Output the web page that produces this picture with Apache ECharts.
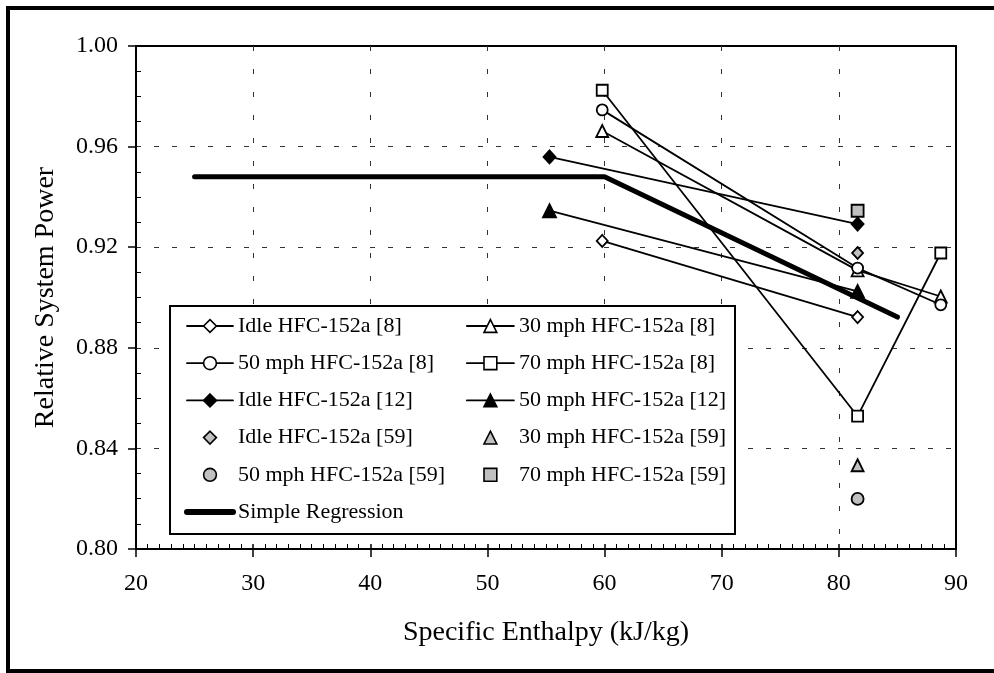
<!DOCTYPE html>
<html>
<head>
<meta charset="utf-8">
<script src="https://cdn.jsdelivr.net/npm/echarts@6/dist/echarts.min.js"></script>
<style>
html,body{margin:0;padding:0;background:#fff;}
#chart{width:994px;height:673px;}
</style>
</head>
<body>
<div id="chart"></div>
<script>
// ---- data ----
const xTicks = [20, 30, 40, 50, 60, 70, 80, 90];
const yTicks = [0.80, 0.84, 0.88, 0.92, 0.96, 1.00];

const idle8    = [[59.8, 0.9225], [81.6, 0.8922]];
const mph30_8  = [[59.8, 0.9662], [81.6, 0.9108], [88.7, 0.9004]];
const mph50_8  = [[59.8, 0.9746], [81.6, 0.9117], [88.7, 0.8971]];
const mph70_8  = [[59.8, 0.9824], [81.6, 0.8528], [88.7, 0.9177]];
const idle12   = [[55.3, 0.9559], [81.6, 0.9292]];
const mph50_12 = [[55.3, 0.9345], [81.6, 0.9024]];
const idle59   = [[81.6, 0.9177]];
const mph30_59 = [[81.6, 0.8333]];
const mph50_59 = [[81.6, 0.8199]];
const mph70_59 = [[81.6, 0.9345]];
const regression = [[25, 0.948], [60, 0.948], [85, 0.8922]];

const names = {
  idle8: 'Idle HFC-152a [8]', mph30_8: '30 mph HFC-152a [8]',
  mph50_8: '50 mph HFC-152a [8]', mph70_8: '70 mph HFC-152a [8]',
  idle12: 'Idle HFC-152a [12]', mph50_12: '50 mph HFC-152a [12]',
  idle59: 'Idle HFC-152a [59]', mph30_59: '30 mph HFC-152a [59]',
  mph50_59: '50 mph HFC-152a [59]', mph70_59: '70 mph HFC-152a [59]',
  reg: 'Simple Regression'
};

// ---- styling ----
const FONT = "'Liberation Serif','Times New Roman',serif";
const GREY = '#c0c0c0';
const LW = 1.8;

function mk(name, data, symbol, size, fill, lineVisible) {
  return {
    name: name, type: 'line', data: data,
    xAxisIndex: 0, yAxisIndex: 0,
    symbol: symbol, symbolSize: size, showAllSymbol: true,
    lineStyle: { color: '#000', width: lineVisible ? LW : 0, opacity: lineVisible ? 1 : 0 },
    itemStyle: { color: fill, borderColor: '#000', borderWidth: 1.8, opacity: 1 },
    emphasis: { disabled: true },
    z: 3
  };
}

const series = [
  {
    name: names.reg, type: 'line', data: regression, symbol: 'none',
    xAxisIndex: 0, yAxisIndex: 0,
    lineStyle: { color: '#000', width: 5, cap: 'round', join: 'round' },
    itemStyle: { color: '#000' }, emphasis: { disabled: true }, z: 2
  },
  mk(names.idle8, idle8, 'diamond', [11, 12], '#fff', true),
  mk(names.mph30_8, mph30_8, 'triangle', 12, '#fff', true),
  mk(names.mph70_8, mph70_8, 'rect', 11, '#fff', true),
  mk(names.mph50_8, mph50_8, 'circle', 11, '#fff', true),
  mk(names.idle12, idle12, 'diamond', [12, 13], '#000', true),
  mk(names.mph50_12, mph50_12, 'triangle', 13, '#000', true),
  mk(names.idle59, idle59, 'diamond', [11, 12], GREY, false),
  mk(names.mph30_59, mph30_59, 'triangle', 12, GREY, false),
  mk(names.mph50_59, mph50_59, 'circle', 12, GREY, false),
  mk(names.mph70_59, mph70_59, 'rect', 12, GREY, false)
];

function legItem(name, fill, lineOn, wide) {
  return {
    name: name,
    itemStyle: { color: fill, borderColor: '#000', borderWidth: wide ? 0 : 1.6, opacity: wide ? 0 : 1 },
    lineStyle: { color: '#000', width: wide ? 6 : (lineOn ? LW : 0), opacity: lineOn ? 1 : 0, cap: 'round' }
  };
}

const legendCommon = {
  orient: 'vertical', padding: 0, itemHeight: 16, itemGap: 13.2,
  selectedMode: false,
  textStyle: { fontFamily: FONT, fontSize: 22, color: '#000', lineHeight: 24 },
  z: 10
};

const baseAxis = {
  type: 'value',
  axisLine: { lineStyle: { color: '#000', width: 2 } },
  axisLabel: { fontFamily: FONT, fontSize: 24, color: '#000' },
  nameTextStyle: { fontFamily: FONT, fontSize: 28, color: '#000' }
};

const option = {
  animation: false,
  backgroundColor: '#fff',
  grid: { left: 136, right: 38, top: 46, bottom: 124, show: true, borderColor: '#000', borderWidth: 2, backgroundColor: 'transparent' },
  xAxis: [
    Object.assign({}, baseAxis, {
      position: 'bottom',
      min: xTicks[0], max: xTicks[xTicks.length - 1], interval: 10,
      name: 'Specific Enthalpy (kJ/kg)', nameLocation: 'middle', nameGap: 70,
      axisTick: { length: 8, lineStyle: { color: '#000', width: 1.5 } },
      axisLabel: Object.assign({}, baseAxis.axisLabel, { margin: 23 }),
      splitLine: { show: true, showMinLine: false, showMaxLine: false, lineStyle: { color: '#333', width: 1, type: [5, 18] } }
    }),
    {
      type: 'value', position: 'bottom',
      min: xTicks[0], max: xTicks[xTicks.length - 1], interval: 10,
      axisLine: { show: false }, axisLabel: { show: false }, splitLine: { show: false },
      axisTick: { show: true, inside: true, length: 5, lineStyle: { color: '#000', width: 1.5 } },
      minorTick: { show: true, splitNumber: 10, length: 5, lineStyle: { color: '#000', width: 1 } }
    }
  ],
  yAxis: [
    Object.assign({}, baseAxis, {
      position: 'left',
      min: yTicks[0], max: yTicks[yTicks.length - 1], interval: 0.04,
      name: 'Relative System Power', nameLocation: 'middle', nameGap: 76,
      axisTick: { length: 8, lineStyle: { color: '#000', width: 1.5 } },
      axisLabel: Object.assign({}, baseAxis.axisLabel, { margin: 18, formatter: v => v.toFixed(2) }),
      splitLine: { show: true, showMinLine: false, showMaxLine: false, lineStyle: { color: '#333', width: 1, type: [5, 13] } }
    }),
    {
      type: 'value', position: 'left',
      min: yTicks[0], max: yTicks[yTicks.length - 1], interval: 0.04,
      axisLine: { show: false }, axisLabel: { show: false }, splitLine: { show: false },
      axisTick: { show: false, inside: true },
      minorTick: { show: true, splitNumber: 4, length: 5, lineStyle: { color: '#000', width: 1 } }
    }
  ],
  legend: [
    Object.assign({}, legendCommon, {
      left: 184, top: 314, itemWidth: 46,
      data: [
        legItem(names.idle8, '#fff', true),
        legItem(names.mph50_8, '#fff', true),
        legItem(names.idle12, '#000', true),
        legItem(names.idle59, GREY, false),
        legItem(names.mph50_59, GREY, false),
        legItem(names.reg, '#000', true, true)
      ]
    }),
    Object.assign({}, legendCommon, {
      left: 466, top: 314, itemWidth: 47,
      data: [
        legItem(names.mph30_8, '#fff', true),
        legItem(names.mph70_8, '#fff', true),
        legItem(names.mph50_12, '#000', true),
        legItem(names.mph30_59, GREY, false),
        legItem(names.mph70_59, GREY, false)
      ]
    })
  ],
  graphic: [
    { type: 'rect', z: 5, shape: { x: 170, y: 306, width: 565, height: 228 },
      style: { fill: '#fff', stroke: '#000', lineWidth: 2 } },
    { type: 'rect', z: 20, silent: true, shape: { x: 8, y: 8, width: 1000, height: 663 },
      style: { fill: 'none', stroke: '#000', lineWidth: 4 } }
  ],
  series: series
};

const chart = echarts.init(document.getElementById('chart'), null, { renderer: 'canvas' });
chart.setOption(option);
</script>
</body>
</html>
